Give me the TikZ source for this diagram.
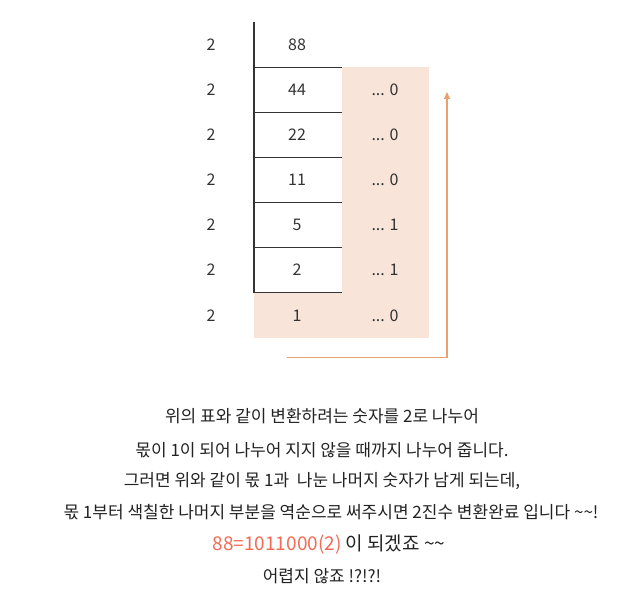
\documentclass[tikz,border=0pt]{standalone}
\usepackage{fontspec}
\setmainfont{Noto Sans CJK KR}
\usetikzlibrary{arrows.meta}
\definecolor{peach}{HTML}{F8E4D8}
\definecolor{arr}{HTML}{E9A06E}
\definecolor{txt}{HTML}{222222}
\definecolor{num}{HTML}{333333}
\definecolor{hi}{HTML}{F26B55}
\tikzset{
  cell/.style={font=\fontsize{16}{19}\selectfont, text=num, inner sep=0pt, anchor=center},
  para/.style={font=\fontsize{17}{20}\selectfont, text=txt, inner sep=0pt, anchor=center},
  bigpara/.style={para, font=\fontsize{19}{22}\selectfont},
  rule/.style={draw=num, line width=1.1pt},
  flow/.style={draw=arr, line width=1.3pt, -{Triangle[length=7pt,width=6pt]}}
}
\begin{document}
\begin{tikzpicture}[x=1pt,y=-1pt]
\useasboundingbox (0,0) rectangle (644,604);
% shaded area
\fill[peach] (342,67.5) rectangle (429,338);
\fill[peach] (254,292.5) rectangle (342,338);
% table rules
\draw[rule] (254,22) -- (254,292.5);
\foreach \y in {67.5,112.5,157.5,202.5,247.5,292.5}
  \draw[rule] (254,\y) -- (342,\y);
% divisors
\foreach \i/\y in {1/45,2/90,3/135,4/180,5/225,6/270,7/316}
  \node[cell] (d\i) at (211,\y) {2};
% quotients
\node[cell] (q1) at (297,45) {88};
\node[cell] (q2) at (297,90) {44};
\node[cell] (q3) at (297,135) {22};
\node[cell] (q4) at (297,180) {11};
\node[cell] (q5) at (297,225) {5};
\node[cell] (q6) at (297,270) {2};
\node[cell] (q7) at (297,316) {1};
% remainders
\node[cell] (r2) at (385,90) {... 0};
\node[cell] (r3) at (385,135) {... 0};
\node[cell] (r4) at (385,180) {... 0};
\node[cell] (r5) at (385,225) {... 1};
\node[cell] (r6) at (385,270) {... 1};
\node[cell] (r7) at (385,316) {... 0};
% arrow
\coordinate (a0) at (287,357.5);
\coordinate (a1) at (447,357.5);
\coordinate (a2) at (447,92);
\draw[flow] (a0) -- (a1) -- (a2);
% paragraph
\node[para] (t1) at (322,416) {위의 표와 같이 변환하려는 숫자를 2로 나누어};
\node[para] (t2) at (322,450) {몫이 1이 되어 나누어 지지 않을 때까지 나누어 줍니다.};
\node[para] (t3) at (322,481) {그러면 위와 같이 몫 1과 \ 나눈 나머지 숫자가 남게 되는데,};
\node[para] (t4) at (331,512) {몫 1부터 색칠한 나머지 부분을 역순으로 써주시면 2진수 변환완료 입니다 \textasciitilde\textasciitilde!};
\node[bigpara] (t5) at (329,544) {\textcolor{hi}{88=1011000(2)} 이 되겠죠 \textasciitilde\textasciitilde};
\node[para] (t6) at (322,576) {어렵지 않죠 !?!?!};
\end{tikzpicture}
\end{document}
